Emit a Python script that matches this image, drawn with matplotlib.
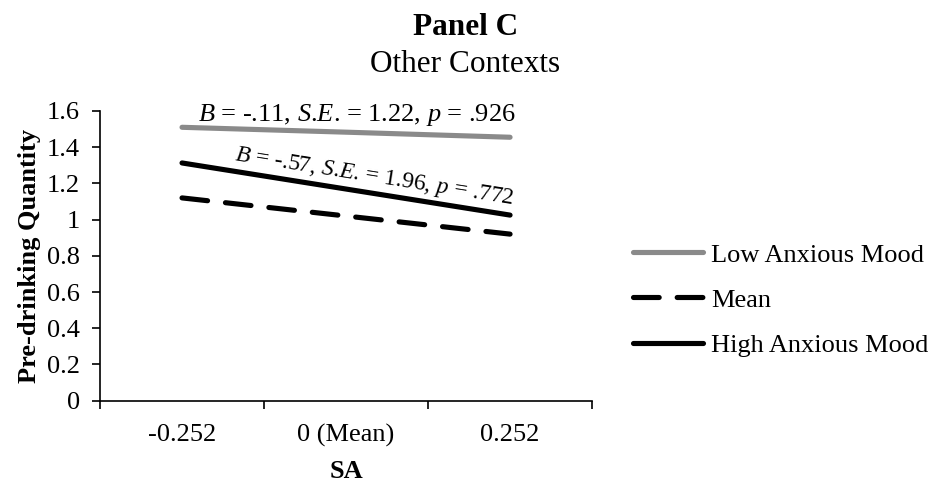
import matplotlib
matplotlib.use("Agg")
import matplotlib.pyplot as plt

categories = ["-0.252", "0 (Mean)", "0.252"]
low_mood = [1.51, 1.483, 1.455]
mean_mood = [1.12, 1.02, 0.92]
high_mood = [1.313, 1.169, 1.025]
series_names = ["Low Anxious Mood", "Mean", "High Anxious Mood"]
yticks = [0, 0.2, 0.4, 0.6, 0.8, 1, 1.2, 1.4, 1.6]
ytick_labels = ["0", "0.2", "0.4", "0.6", "0.8", "1", "1.2", "1.4", "1.6"]
note_low = r"$B$ = -.11, $S$.$E$. = 1.22, $p$ = .926"
note_high = r"$B$ = -.57, $S$.$E$. = 1.96, $p$ = .772"

plt.rcParams["font.family"] = "Liberation Serif"
plt.rcParams["mathtext.fontset"] = "custom"
plt.rcParams["mathtext.rm"] = "Liberation Serif"
plt.rcParams["mathtext.it"] = "Liberation Serif:italic"
plt.rcParams["font.size"] = 19

fig = plt.figure(figsize=(9.34, 4.83), dpi=100)
ax = fig.add_axes([0.1071, 0.1704, 0.5268, 0.5998])

x = range(len(categories))
lw = 3.7
ax.plot(x, low_mood, color="#8a8a8a", lw=lw, solid_capstyle="round", label=series_names[0])
ax.plot(x, mean_mood, color="black", lw=lw, linestyle=(0, (5.0, 3.5)), dash_capstyle="round",
        label=series_names[1])
ax.plot(x, high_mood, color="black", lw=lw, solid_capstyle="round", label=series_names[2])

ax.set_xlim(-0.5, 2.5)
ax.set_ylim(0, 1.6)
ax.set_yticks(yticks)
ax.set_yticklabels(ytick_labels)
ax.set_xticks([-0.5, 0.5, 1.5, 2.5])
ax.set_xticklabels([])
ax.set_xticks(list(x), minor=True)
ax.set_xticklabels(categories, minor=True)
ax.tick_params(axis="x", which="major", length=5.5, width=1.2)
ax.tick_params(axis="x", which="minor", length=0, pad=17)
ax.tick_params(axis="y", length=5.5, width=1.2, pad=9)

for s in ["top", "right"]:
    ax.spines[s].set_visible(False)
ax.spines["left"].set_linewidth(1.2)
ax.spines["bottom"].set_linewidth(1.2)

ax.set_xlabel("SA", fontweight="bold", labelpad=9)
ax.set_ylabel("Pre-drinking Quantity", fontweight="bold", labelpad=4)

ax.text(1.064, 1.542, note_low, ha="center", va="baseline", fontsize=19)
ax.text(1.168, 1.209, note_high, ha="center", va="baseline", fontsize=17,
        rotation=-9, rotation_mode="anchor")

fig.text(0.498, 0.9275, "Panel C", ha="center", va="baseline", fontweight="bold", fontsize=22.5)
fig.text(0.498, 0.851, "Other Contexts", ha="center", va="baseline", fontsize=22.5)

ax.legend(loc="center left", bbox_to_anchor=(0.6777, 0.379), bbox_transform=fig.transFigure,
          frameon=False, borderpad=0, borderaxespad=0, handlelength=2.65,
          handletextpad=0.3, labelspacing=0.82)

fig.savefig("out.png", dpi=100)
